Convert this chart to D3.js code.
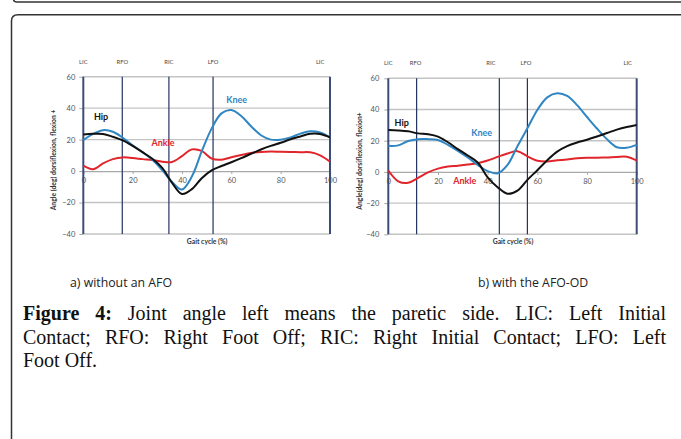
<!DOCTYPE html>
<html>
<head>
<meta charset="utf-8">
<script src="https://cdn.jsdelivr.net/npm/d3@7/dist/d3.min.js"></script>
<style>
  body { margin: 0; background: #fff; }
  svg { display: block; }
</style>
</head>
<body>
<div id="chart"></div>
<script>
// gait cycle sample points (%), shared by every series
const gait = d3.range(0, 101, 4)

// a) without an AFO
const hipA = [23.3, 23.7, 23.6, 21.8, 19.5, 16, 12, 7.8, 2, -7.5, -14.6, -11.5, -4.5, 0.5, 3.2, 5.6, 8.2, 11, 13.7, 16, 18, 20.2, 22, 23.7, 23.6, 21.4]
const kneeA = [19.7, 23.6, 26, 25, 21.2, 16.4, 12, 7.2, 0.6, -7, -11.7, -3.5, 12.5, 27, 36.7, 38.8, 35, 28.5, 22.8, 20, 19.9, 21.4, 23.8, 25.3, 24.5, 21.4]
const ankleA = [3.4, 1.2, 4.9, 7.6, 8.7, 8.3, 7.6, 7, 6, 5.8, 9.5, 13.8, 12.8, 8, 7.2, 8.8, 10.2, 11.5, 12.2, 12.4, 12.3, 12.2, 12, 11.9, 10, 6]
const eventsA = [0, 15.8, 34.7, 52.6, 100]
const eventLabelPosA = [0, 15.8, 34.7, 52.6, 96]

// b) with the AFO-OD
const hipB = [26.9, 26.6, 26, 24.7, 24.1, 22.6, 19, 14.6, 10.5, 6, -3.5, -9.8, -14, -12, -5.1, 1.1, 7.5, 13, 16.5, 18.8, 20.6, 22.7, 24.9, 27.1, 28.8, 30.1]
const kneeB = [16.7, 17, 19.8, 21, 21, 20.5, 17.3, 13.5, 9.2, 4.5, 0.5, -0.9, 4.5, 16.5, 28, 39.7, 47.8, 50.4, 48.7, 42.8, 35.2, 27.8, 21, 15.8, 15.5, 17.3]
const ankleB = [0.9, -6, -7, -3.8, -0.3, 2.1, 3.4, 4, 4.7, 5.6, 7.3, 9.6, 11.8, 13.3, 10, 7.2, 6.7, 7.4, 8, 8.7, 9, 9.1, 9.3, 9.6, 9.7, 7.3]
const eventsB = [0, 11.4, 44.7, 56, 100]
const eventLabelPosB = [0, 11, 41.3, 55.4, 96.4]

const eventNames = ["LIC", "RFO", "RIC", "LFO", "LIC"]
const yTicks = [-40, -20, 0, 20, 40, 60]
const xTicks = [0, 20, 40, 60, 80, 100]

const colors = { Hip: "#111111", Knee: "#2f86c3", Ankle: "#e0262b" }

const width = 681, height = 439
const svg = d3.select("#chart").append("svg")
  .attr("width", width)
  .attr("height", height)

// frame lines of the page
svg.append("path")
  .attr("d", "M13.5,-1 Q13.5,2 17,2 H682")
  .attr("fill", "none").attr("stroke", "#333").attr("stroke-width", 1.5)
svg.append("path")
  .attr("d", "M11.5,440 V21 Q11.5,14.7 18,14.7 H682")
  .attr("fill", "none").attr("stroke", "#333").attr("stroke-width", 1.5)

function drawChart(cfg) {
  const x = d3.scaleLinear().domain([0, 100]).range([cfg.left, cfg.right])
  const y = d3.scaleLinear().domain([-40, 60]).range([cfg.bottom, cfg.top])
  const g = svg.append("g")

  // horizontal grid
  g.selectAll(".grid")
    .data(yTicks.filter(d => d !== 0))
    .enter().append("line")
      .attr("x1", x(0)).attr("x2", x(100))
      .attr("y1", d => y(d)).attr("y2", d => y(d))
      .attr("stroke", "#c4c4c4").attr("stroke-width", 1.4)

  // x axis through zero
  const xAxis = d3.axisBottom(x).tickValues(xTicks).tickSize(3).tickPadding(4)
  g.append("g")
    .attr("transform", `translate(0,${y(0)})`)
    .call(xAxis)
    .call(a => a.select(".domain").attr("stroke", "#a8a8a8").attr("stroke-width", 1.2))
    .call(a => a.selectAll(".tick line").attr("stroke", "#a8a8a8"))
    .call(a => a.selectAll(".tick text")
      .attr("fill", "#555").attr("font-size", 7.5).attr("font-family", "Lato, sans-serif"))

  const yAxis = d3.axisLeft(y).tickValues(yTicks).tickSize(4).tickPadding(cfg.yPad)
  g.append("g")
    .attr("transform", `translate(${x(0)},0)`)
    .call(yAxis)
    .call(a => a.select(".domain").remove())
    .call(a => a.selectAll(".tick line").attr("stroke", "#a8a8a8"))
    .call(a => a.selectAll(".tick text")
      .attr("fill", "#555").attr("font-size", 7.5).attr("font-family", "Lato, sans-serif"))

  // gait event lines
  g.selectAll(".event")
    .data(cfg.events)
    .enter().append("line")
      .attr("x1", d => x(d)).attr("x2", d => x(d))
      .attr("y1", y(60)).attr("y2", y(-40))
      .attr("stroke", (d, i) => (i === 0 || i === cfg.events.length - 1) ? "#3b4c78" : "#243360")
      .attr("stroke-width", (d, i) => (i === 0 || i === cfg.events.length - 1) ? 2 : 1.2)

  g.selectAll(".event-label")
    .data(cfg.eventLabelPos)
    .enter().append("text")
      .attr("x", d => x(d))
      .attr("y", cfg.top - 13)
      .attr("text-anchor", "middle")
      .attr("font-size", 5.8)
      .attr("font-family", "Lato, sans-serif")
      .attr("fill", "#444")
      .text((d, i) => eventNames[i])

  const line = d3.line()
    .x((d, i) => x(gait[i]))
    .y(d => y(d))
    .curve(d3.curveCatmullRom.alpha(0.5))

  cfg.series.forEach(s => {
    g.append("path")
      .attr("d", line(s.values))
      .attr("fill", "none")
      .attr("stroke", colors[s.name])
      .attr("stroke-width", 2)
  })

  cfg.series.forEach(s => {
    g.append("text")
      .attr("x", x(s.at[0]))
      .attr("y", y(s.at[1]) + 3)
      .attr("text-anchor", "middle")
      .attr("font-size", 9)
      .attr("font-weight", "bold")
      .attr("font-family", "Lato, sans-serif")
      .attr("fill", colors[s.name])
      .text(s.name)
  })

  g.append("text")
    .attr("transform", `translate(${cfg.yTitleX},${cfg.yTitleY}) rotate(-90)`)
    .attr("text-anchor", "middle")
    .attr("dominant-baseline", "middle")
    .attr("font-size", 6.8)
    .attr("font-weight", "bold")
    .attr("font-family", "Lato, sans-serif")
    .attr("fill", "#333")
    .text(cfg.yTitle)

  g.append("text")
    .attr("x", (cfg.left + cfg.right) / 2 + 0.5)
    .attr("y", cfg.bottom + 10)
    .attr("text-anchor", "middle")
    .attr("font-size", 6.8)
    .attr("font-weight", "bold")
    .attr("font-family", "Lato, sans-serif")
    .attr("fill", "#333")
    .text("Gait cycle (%)")

  g.append("text")
    .attr("x", cfg.capX)
    .attr("y", 287)
    .attr("font-size", 12.3)
    .attr("font-family", "'Open Sans', sans-serif")
    .attr("fill", "#222")
    .text(cfg.caption)
}

drawChart({
  left: 83.3, right: 330, top: 76.7, bottom: 234, yPad: 4,
  events: eventsA, eventLabelPos: eventLabelPosA,
  series: [
    { name: "Ankle", values: ankleA, at: [32.3, 18] },
    { name: "Knee", values: kneeA, at: [62.2, 45] },
    { name: "Hip", values: hipA, at: [7.2, 34.5] }
  ],
  yTitle: "Angle (deg) dorsiflexion, flexion +", yTitleX: 54, yTitleY: 160,
  caption: "a) without an AFO", capX: 70
})

drawChart({
  left: 388.3, right: 636.7, top: 78.3, bottom: 234.3, yPad: 5,
  events: eventsB, eventLabelPos: eventLabelPosB,
  series: [
    { name: "Ankle", values: ankleB, at: [30.8, -5.8] },
    { name: "Knee", values: kneeB, at: [37.6, 25.2] },
    { name: "Hip", values: hipB, at: [5.4, 31.2] }
  ],
  yTitle: "Angle(deg) dorsiflexion, flexion+", yTitleX: 360, yTitleY: 161,
  caption: "b) with the AFO-OD", capX: 478
})

// figure caption, justified lines
const captionLines = [
  [["Figure 4:", true], [" Joint angle left means the paretic side. LIC: Left Initial", false]],
  [["Contact; RFO: Right Foot Off; RIC: Right Initial Contact; LFO: Left", false]],
  [["Foot Off.", false]]
]
const capLeft = 23, capRight = 666
captionLines.forEach((parts, i) => {
  const t = svg.append("text")
    .attr("x", capLeft)
    .attr("y", 320 + i * 23.5)
    .attr("font-size", 20)
    .attr("font-family", "'Liberation Serif', 'Times New Roman', serif")
    .attr("fill", "#111")
  parts.forEach(([str, bold]) => {
    t.append("tspan").attr("font-weight", bold ? "bold" : null).text(str)
  })
  if (i < captionLines.length - 1) {
    const full = parts.map(p => p[0]).join("")
    const spaces = (full.match(/ /g) || []).length
    const natural = t.node().getComputedTextLength()
    t.attr("word-spacing", (capRight - capLeft - natural) / spaces)
  }
})
</script>
</body>
</html>
